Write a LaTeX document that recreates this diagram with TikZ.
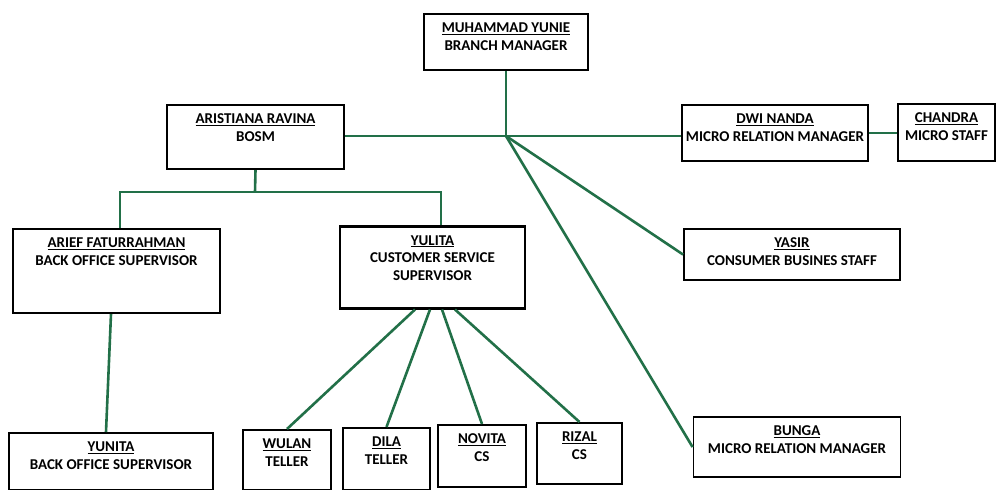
\documentclass[tikz,border=0pt]{standalone}
\usepackage{fontspec}
\newfontfamily\orgfont{Carlito}
\usepackage{tikz}

\definecolor{linkgreen}{RGB}{34,112,72}
\newcommand{\boxgap}[1]{\rule[-#1pt]{0pt}{#1pt}}

\tikzset{
  box/.style={draw, line width=1.8pt, anchor=north, align=center, inner xsep=2pt, inner ysep=9pt,
    font=\orgfont\bfseries\fontsize{15}{17.5}\selectfont},
  link/.style={linkgreen, line width=2.6pt}
}

\begin{document}
\begin{tikzpicture}[x=1pt, y=-1pt]
            \useasboundingbox (0,0) rectangle (997,490);

            \node[box, minimum width=164] (yunie) at (506,13) {\underline{MUHAMMAD YUNIE}\\BRANCH MANAGER\boxgap{11}};
            \node[box, minimum width=177] (aristiana) at (255.5,104) {\underline{ARISTIANA RAVINA}\\BOSM\boxgap{19}};
            \node[box, minimum width=186] (dwinanda) at (775,104) {\underline{DWI NANDA}\\MICRO RELATION MANAGER\boxgap{11}};
            \node[box, minimum width=97] (chandra) at (946.5,103) {\underline{CHANDRA}\\MICRO STAFF\boxgap{12}};
            \node[box, minimum width=216] (yasir) at (792,228) {\underline{YASIR}\\CONSUMER BUSINES STAFF\boxgap{6}};
            \node[box, minimum width=207] (bunga) at (797,416) {\underline{BUNGA}\\MICRO RELATION MANAGER\boxgap{15}};
            \node[box, minimum width=207] (arief) at (116.5,228) {\underline{ARIEF FATURRAHMAN}\\BACK OFFICE SUPERVISOR\boxgap{39}};
            \node[box, line width=2.8pt, minimum width=185] (yulita) at (432.5,225) {\underline{YULITA}\\CUSTOMER SERVICE\\SUPERVISOR\boxgap{19}};
            \node[box, minimum width=204] (yunita) at (111,432) {\underline{YUNITA}\\BACK OFFICE SUPERVISOR\boxgap{12}};
            \node[box, minimum width=88] (wulan) at (287,429) {\underline{WULAN}\\TELLER\boxgap{15}};
            \node[box, minimum width=87] (dila) at (386.5,427) {\underline{DILA}\\TELLER\boxgap{17}};
            \node[box, minimum width=88] (novita) at (482,424) {\underline{NOVITA}\\CS\boxgap{17}};
            \node[box, minimum width=85] (rizal) at (579.5,422) {\underline{RIZAL}\\CS\boxgap{16}};

            \coordinate (hub) at (506,136);
            \coordinate (bosmjoin) at (255,192);

            \draw[link] (yunie.south) -- (hub);
            \draw[link] (aristiana.east |- hub) -- (hub) -- (hub -| dwinanda.west);
            \draw[link] (dwinanda.east) -- (dwinanda.east -| chandra.west);
            \draw[link] (hub) -- (yasir.west);
            \draw[link] (hub) -- (bunga.west);
            \draw[link] (aristiana.south) -- (bosmjoin);
            \draw[link] ([xshift=3.5pt]arief.north) |- (bosmjoin) -| ([xshift=8.5pt]yulita.north);
            \draw[link] ([xshift=-5.5pt]arief.south) -- ([xshift=-5pt]yunita.north);
            \draw[link] ([xshift=-17.5pt]yulita.south) -- (wulan.north);
            \draw[link] ([xshift=-2.5pt]yulita.south) -- (dila.north);
            \draw[link] ([xshift=9.5pt]yulita.south) -- (novita.north);
            \draw[link] ([xshift=22.5pt]yulita.south) -- (rizal.north);

\end{tikzpicture}
\end{document}
